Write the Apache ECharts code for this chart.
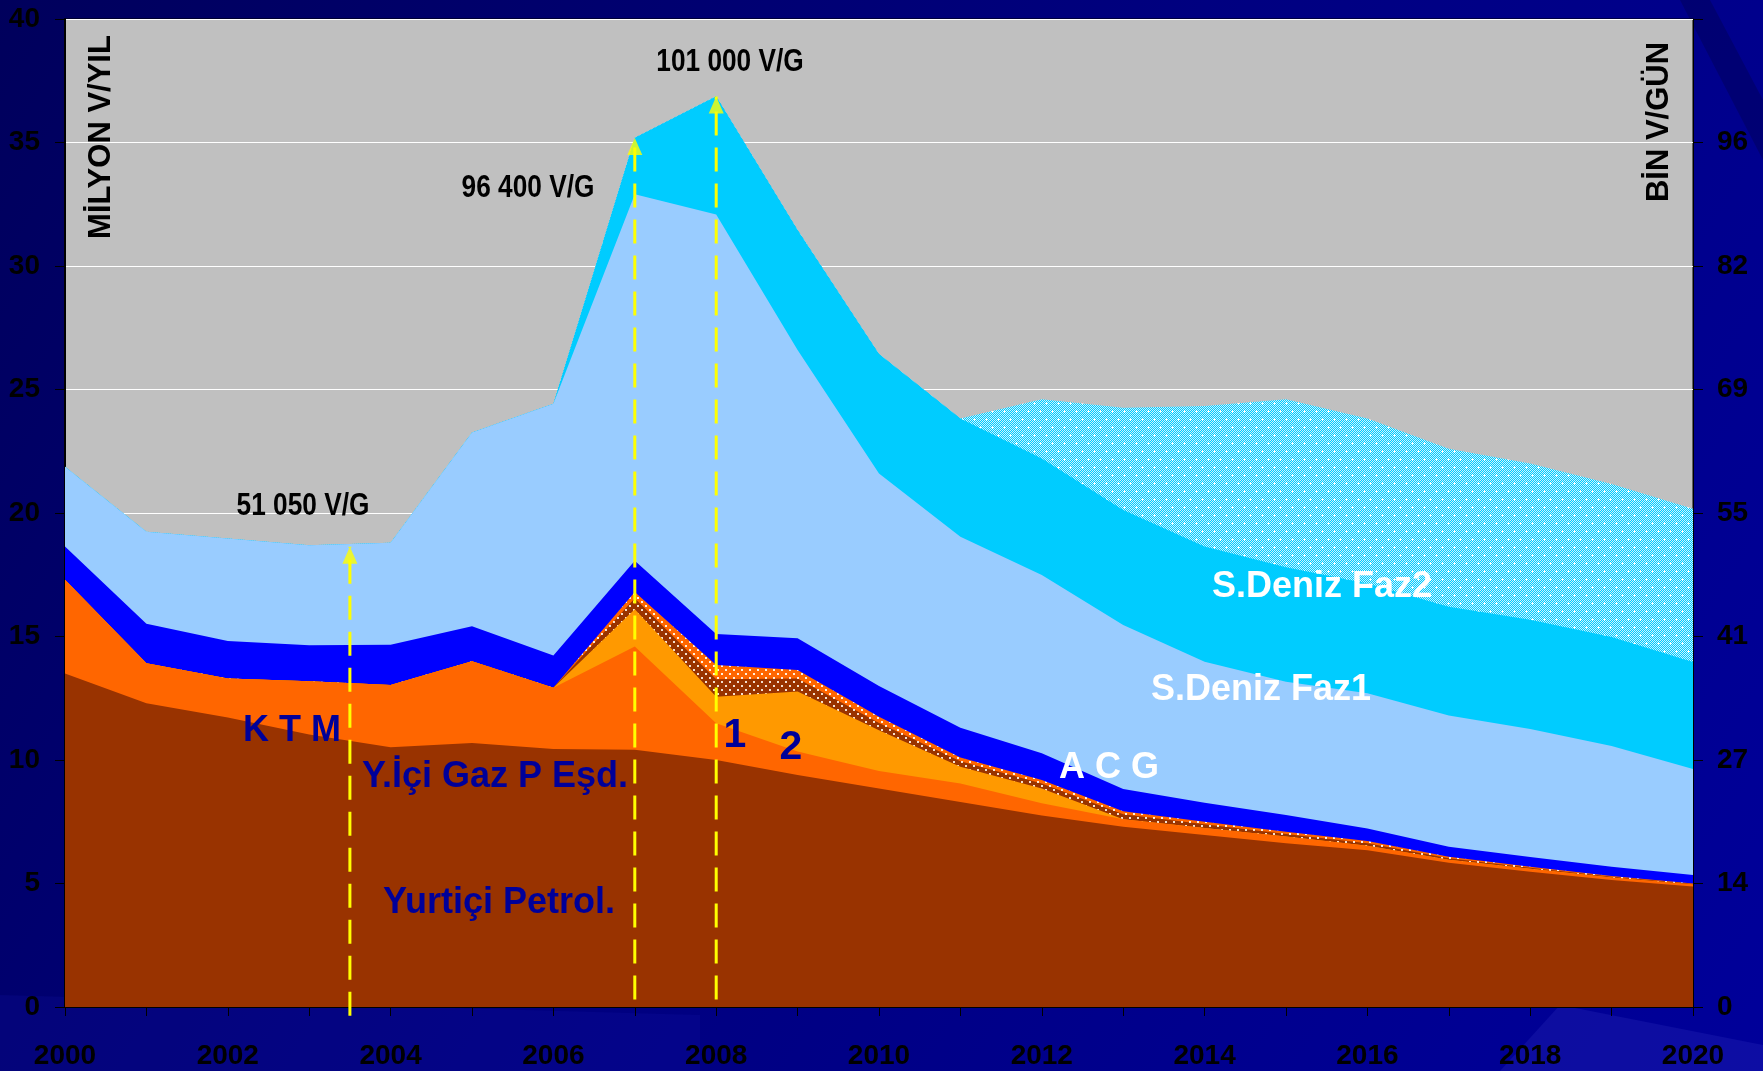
<!DOCTYPE html>
<html>
<head>
<meta charset="utf-8">
<script src="https://cdn.jsdelivr.net/npm/echarts@6/dist/echarts.min.js"></script>
<style>
  html, body { margin: 0; padding: 0; background: #000080; }
  #chart { width: 1763px; height: 1071px; }
</style>
</head>
<body>
<div id="chart"></div>
<script>
// Years on the horizontal axis
const years = [2000, 2001, 2002, 2003, 2004, 2005, 2006, 2007, 2008, 2009, 2010,
               2011, 2012, 2013, 2014, 2015, 2016, 2017, 2018, 2019, 2020];

// Layer thicknesses, million barrels per year (listed bottom to top)
const yurticiPetrol = [13.5, 12.3, 11.72, 11.03, 10.52, 10.69, 10.45, 10.41, 10.0, 9.39, 8.85,
                       8.3, 7.75, 7.3, 6.96, 6.63, 6.35, 5.84, 5.48, 5.14, 4.88];
const yIciGaz       = [3.8, 1.62, 1.58, 2.16, 2.52, 3.31, 2.48, 4.19, 1.49, 0.95, 0.7,
                       0.75, 0.5, 0.3, 0.29, 0.27, 0.18, 0.12, 0.12, 0.1, 0.08];
const kaynak1       = [0, 0, 0, 0, 0, 0, 0, 1.5, 1.07, 2.43, 1.65,
                       0.68, 0.6, 0, 0, 0, 0, 0, 0, 0, 0];
const kaynak2Koyu   = [0, 0, 0, 0, 0, 0, 0, 0.45, 0.71, 0.53, 0.3,
                       0.22, 0.2, 0.2, 0.15, 0.1, 0.1, 0.06, 0.04, 0.03, 0.02];
const kaynak2Acik   = [0, 0, 0, 0, 0, 0, 0, 0.25, 0.58, 0.34, 0.25,
                       0.15, 0.14, 0.13, 0.1, 0.1, 0.09, 0.06, 0.04, 0.03, 0.02];
const ktm           = [1.34, 1.6, 1.52, 1.46, 1.63, 1.41, 1.3, 1.27, 1.25, 1.29, 1.25,
                       1.21, 1.08, 0.9, 0.77, 0.67, 0.51, 0.41, 0.39, 0.38, 0.34];
const acg           = [3.23, 3.72, 4.15, 4.04, 4.13, 7.85, 10.19, 14.83, 16.99, 11.67, 8.6,
                       7.73, 7.22, 6.64, 5.71, 5.4, 5.47, 5.31, 5.19, 4.89, 4.3];
const sDenizFaz1    = [0, 0, 0, 0, 0, 0, 0, 2.29, 4.78, 4.86, 4.84,
                       4.79, 4.72, 4.65, 4.66, 4.63, 4.45, 4.4, 4.42, 4.41, 4.33];
const sDenizFaz2    = [0, 0, 0, 0, 0, 0, 0, 0, 0, 0, 0,
                       0, 2.4, 4.14, 5.69, 6.81, 6.68, 6.4, 6.32, 6.19, 6.2];

// Peak annotations: year and barrels per day
const peakYears = [2003.5, 2007, 2008];
const peakBpd   = [51050, 96400, 101000];
const peakBase  = [-0.35, 0.3, 0.3];

// Right-hand axis labels (thousand barrels per day)
const rightTicks = ['0', '14', '27', '41', '55', '69', '82', '96', ''];

const SANS = '"Liberation Sans", Arial, sans-serif';

// Fill textures
function texture(w, h, base, ditherColor, dotColor, dots, plus) {
  const c = document.createElement('canvas');
  c.width = w; c.height = h;
  const g = c.getContext('2d');
  g.fillStyle = base;
  g.fillRect(0, 0, w, h);
  if (ditherColor) {
    g.fillStyle = ditherColor;
    for (let y = 0; y < h; y++) {
      for (let x = 0; x < w; x++) {
        if ((x + y) % 2 === 0) g.fillRect(x, y, 1, 1);
      }
    }
  }
  g.fillStyle = dotColor;
  dots.forEach(([x, y]) => {
    if (plus) {
      g.fillRect(x - 1, y, 3, 1);
      g.fillRect(x, y - 1, 1, 3);
    } else {
      g.fillRect(x, y, 2, 2);
    }
  });
  return { image: c, repeat: 'repeat' };
}

const brownDots  = texture(8, 8, '#993300', null, '#F4E0D0', [[1, 1], [5, 5]], false);
const orangeDots = texture(8, 8, '#FF6600', null, '#FFF0E0', [[1, 1], [5, 5]], false);
const cyanDots   = texture(12, 16, '#00CCFF', '#CCF2FF', '#FFFFFF', [[2, 3], [8, 11]], true);

// Stack order, bottom to top
const layers = [
  { name: 'Yurtiçi Petrol.', values: yurticiPetrol, color: '#993300' },
  { name: 'Y.İçi Gaz P Eşd.', values: yIciGaz, color: '#FF6600' },
  { name: '1', values: kaynak1, color: '#FF9900' },
  { name: '2 koyu', values: kaynak2Koyu, color: brownDots },
  { name: '2 açık', values: kaynak2Acik, color: orangeDots },
  { name: 'K T M', values: ktm, color: '#0000FF' },
  { name: 'A C G', values: acg, color: '#99CCFF' },
  { name: 'S.Deniz Faz1', values: sDenizFaz1, color: '#00CCFF' },
  { name: 'S.Deniz Faz2', values: sDenizFaz2, color: cyanDots }
];

// Running totals: each layer is drawn as the area under its cumulative top,
// upper layers first so the lower ones cover them.
const running = years.map(() => 0);
const layerSeries = layers.map(l => {
  const tops = l.values.map((v, i) => (running[i] += v));
  return {
    name: l.name,
    type: 'line',
    data: years.map((y, i) => [y, +tops[i].toFixed(3)]),
    symbol: 'none',
    lineStyle: { width: 0 },
    areaStyle: { color: l.color, opacity: 1 },
    silent: true,
    z: 2
  };
}).reverse();

const toYearly = bpd => bpd * 365 / 1e6;
const fmtBpd = v => String(v).replace(/\B(?=(\d{3})+(?!\d))/g, ' ') + ' V/G';

const arrowLines = peakYears.map((x, i) => ({
  type: 'line',
  data: [[x, peakBase[i]], [x, toYearly(peakBpd[i])]],
  symbol: 'none',
  clip: false,
  silent: true,
  lineStyle: { color: '#FFFF00', width: 3, type: [24, 12] },
  z: 10
}));

const arrowHeads = {
  type: 'scatter',
  data: peakYears.map((x, i) => [x, toYearly(peakBpd[i])]),
  symbol: 'triangle',
  symbolSize: [15, 17],
  symbolOffset: [0, 8.5],
  itemStyle: { color: '#FFFF00' },
  silent: true,
  clip: false,
  z: 11
};

const chart = echarts.init(document.getElementById('chart'), null, { renderer: 'canvas' });

const navyText = (text, x, y, size) => ({
  type: 'text', x: x, y: y, z: 5,
  style: { text: text, fill: '#000099', font: 'bold ' + size + 'px ' + SANS, align: 'center', verticalAlign: 'middle' }
});
const whiteText = (text, x, y, size) => ({
  type: 'text', x: x, y: y, z: 5,
  style: { text: text, fill: '#FFFFFF', font: 'bold ' + size + 'px ' + SANS, align: 'center', verticalAlign: 'middle' }
});
// condensed bold numerals for the peak values
const peakText = (i, x, y) => ({
  type: 'text', x: x, y: y, z: 12, scaleX: 0.82,
  style: { text: fmtBpd(peakBpd[i]), fill: '#000000', font: 'bold 32px ' + SANS, align: 'center', verticalAlign: 'middle' }
});

const tickFont = { color: '#000000', fontWeight: 'bold', fontSize: 28, fontFamily: SANS };

chart.setOption({
  animation: false,
  backgroundColor: new echarts.graphic.LinearGradient(0, 0, 1, 1, [
    { offset: 0, color: '#00005C' },
    { offset: 0.5, color: '#000080' },
    { offset: 1, color: '#00009A' }
  ]),
  grid: {
    left: 65, top: 19, right: 70, bottom: 64,
    show: true, backgroundColor: '#C0C0C0', borderColor: '#000000', borderWidth: 1
  },
  xAxis: {
    type: 'value', min: 2000, max: 2020, interval: 1,
    axisLine: { show: true, lineStyle: { color: '#000000', width: 2 } },
    axisTick: { show: true, length: 9, lineStyle: { color: '#000000', width: 1 } },
    axisLabel: Object.assign({ margin: 35, formatter: v => (v % 2 === 0 ? String(v) : '') }, tickFont),
    splitLine: { show: false }
  },
  yAxis: [
    {
      type: 'value', min: 0, max: 40, interval: 5, position: 'left',
      axisLine: { show: true, lineStyle: { color: '#000000', width: 2 } },
      axisTick: { show: true, length: 10, lineStyle: { color: '#000000' } },
      axisLabel: Object.assign({ margin: 25 }, tickFont),
      splitLine: { show: true, lineStyle: { color: '#FFFFFF', width: 1 } }
    },
    {
      type: 'value', min: 0, max: 40, interval: 5, position: 'right',
      axisLine: { show: true, lineStyle: { color: '#000000', width: 1 } },
      axisTick: { show: true, length: 10, lineStyle: { color: '#000000' } },
      axisLabel: Object.assign({ margin: 24, formatter: v => rightTicks[Math.round(v / 5)] }, tickFont),
      splitLine: { show: false }
    }
  ],
  series: [
    ...layerSeries,
    ...arrowLines,
    arrowHeads
  ],
  graphic: [
    // background streaks
    { type: 'polygon', z: -1, silent: true,
      shape: { points: [[1500, 1071], [1560, 1005], [1763, 1045], [1763, 1071]] },
      style: { fill: 'rgba(70,70,210,0.18)' } },
    { type: 'polygon', z: -1, silent: true,
      shape: { points: [[1680, 0], [1710, 0], [1763, 100], [1763, 160]] },
      style: { fill: 'rgba(0,0,40,0.25)' } },
    { type: 'polygon', z: -1, silent: true,
      shape: { points: [[0, 995], [700, 1015], [700, 1071], [0, 1071]] },
      style: { fill: 'rgba(20,20,170,0.2)' } },
    // axis titles
    { type: 'text', x: 101, y: 137, rotation: Math.PI / 2, z: 5,
      style: { text: 'MİLYON V/YIL', fill: '#000000', font: 'bold 31px ' + SANS, align: 'center', verticalAlign: 'middle' } },
    { type: 'text', x: 1659, y: 122, rotation: Math.PI / 2, z: 5,
      style: { text: 'BİN V/GÜN', fill: '#000000', font: 'bold 31px ' + SANS, align: 'center', verticalAlign: 'middle' } },
    // layer names
    navyText('K T M', 292, 731, 36),
    navyText('Y.İçi Gaz P Eşd.', 495, 777, 36),
    navyText('Yurtiçi Petrol.', 499, 903, 36),
    navyText('1', 735, 736, 41),
    navyText('2', 791, 748, 41),
    whiteText('A C G', 1109, 768, 36),
    whiteText('S.Deniz Faz1', 1261, 690, 36),
    whiteText('S.Deniz Faz2', 1322, 587, 36),
    // peak annotations
    peakText(0, 303, 506),
    peakText(1, 528, 188),
    peakText(2, 730, 62)
  ]
});
</script>
</body>
</html>
